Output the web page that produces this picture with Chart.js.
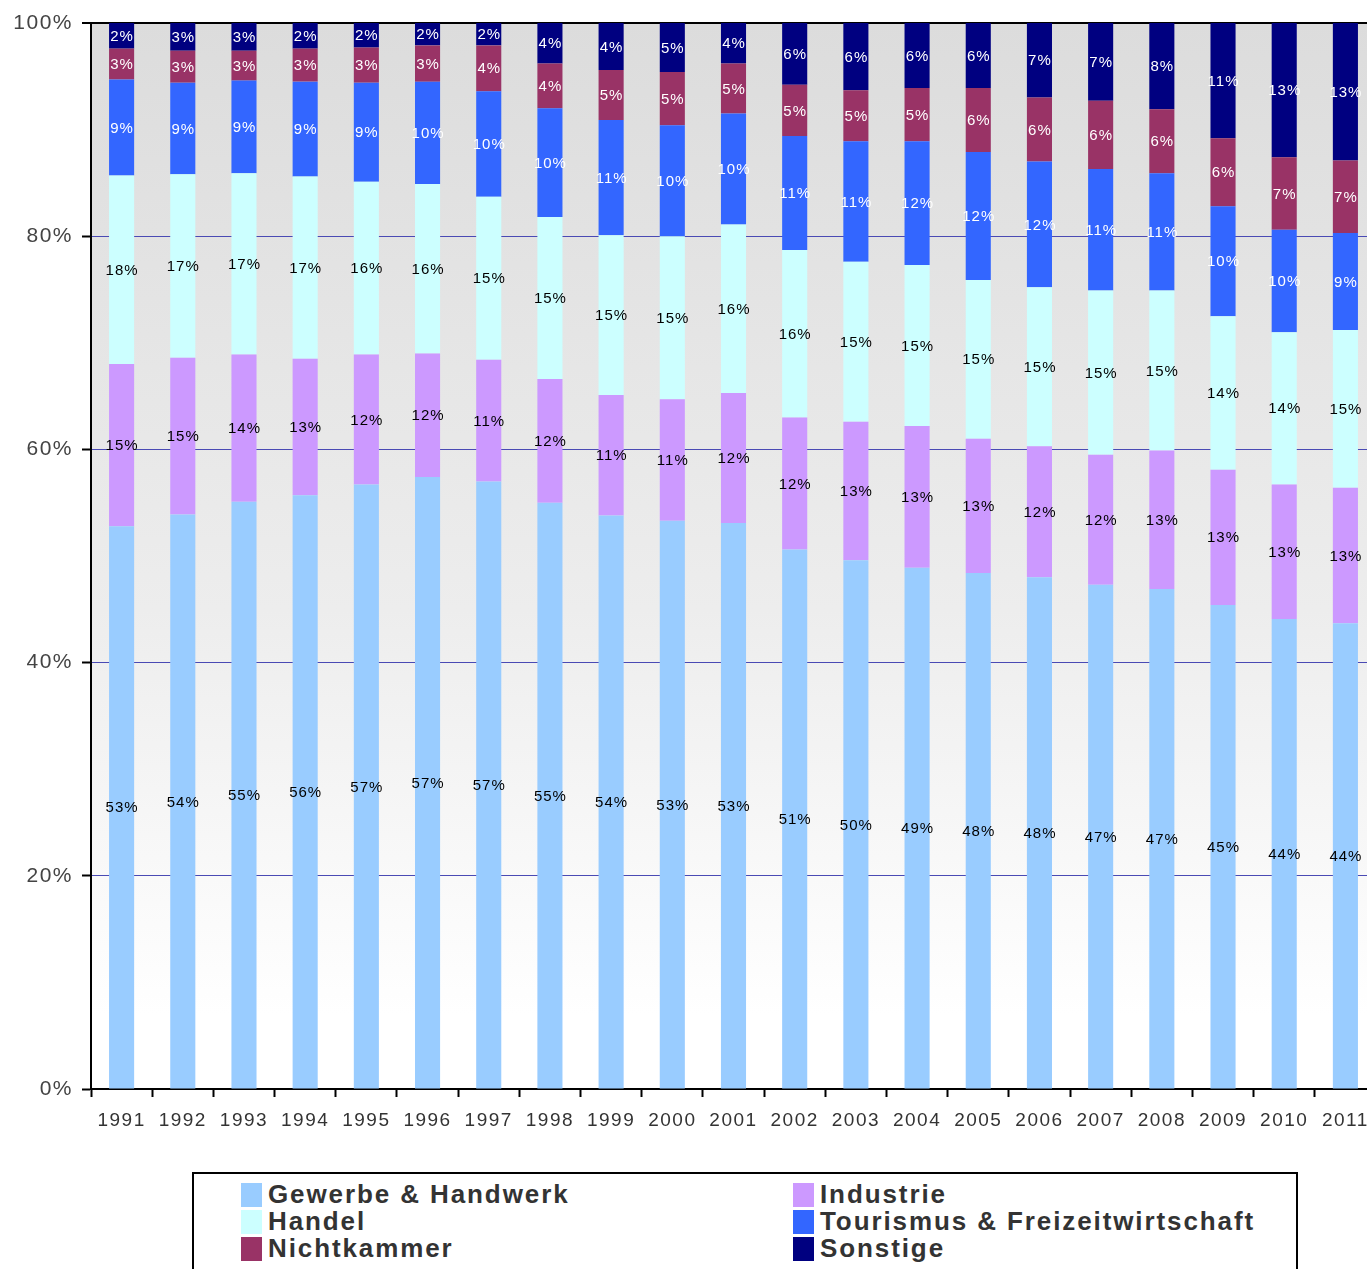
<!DOCTYPE html>
<html lang="de">
<head>
<meta charset="utf-8">
<title>Mitglieder nach Sparten 1991–2011</title>
<script src="https://cdn.jsdelivr.net/npm/chart.js@4/dist/chart.umd.min.js"></script>
<style>
  html, body { margin: 0; padding: 0; background: #fff; overflow: hidden; }
  body { width: 1367px; height: 1269px; position: relative; }
  #wrap { position: absolute; left: 0; top: 0; width: 1378px; height: 1140px; }
  #legend {
    position: absolute; left: 192px; top: 1172px; width: 1102px; height: 120px;
    border: 2px solid #000; box-sizing: content-box;
  }
  .item {
    position: absolute; height: 27px; display: flex; align-items: center;
    font-family: "Liberation Sans", Arial, sans-serif; font-weight: bold;
    font-size: 26px; letter-spacing: 1.9px; color: #333; white-space: nowrap;
  }
  .sw { width: 21px; height: 24px; margin-right: 6px; flex: none; }
</style>
</head>
<body>
<div id="wrap"><canvas id="chart"></canvas></div>
<div id="legend"></div>
<script>
// Jahre (Kategorien)
const years = ['1991','1992','1993','1994','1995','1996','1997','1998','1999','2000',
               '2001','2002','2003','2004','2005','2006','2007','2008','2009','2010','2011'];

// Anteile je Sparte in Prozent
const gewerbe     = [52.8, 53.9, 55.1, 55.7, 56.7, 57.4, 57.0, 55.0, 53.8, 53.3, 53.1, 50.6, 49.6, 48.9, 48.4, 48.0, 47.3, 46.9, 45.4, 44.1, 43.7];
const industrie   = [15.2, 14.7, 13.8, 12.8, 12.2, 11.6, 11.4, 11.6, 11.3, 11.4, 12.2, 12.4, 13.0, 13.3, 12.6, 12.3, 12.2, 13.0, 12.7, 12.6, 12.7];
const handel      = [17.7, 17.2, 17.0, 17.1, 16.2, 15.9, 15.3, 15.2, 15.0, 15.3, 15.8, 15.7, 15.0, 15.1, 14.9, 14.9, 15.4, 15.0, 14.4, 14.3, 14.8];
const tourismus   = [ 9.0,  8.6,  8.7,  8.9,  9.3,  9.6,  9.9, 10.2, 10.8, 10.4, 10.4, 10.7, 11.3, 11.6, 12.0, 11.8, 11.4, 11.0, 10.3,  9.6,  9.1];
const nichtkammer = [ 2.9,  3.0,  2.8,  3.1,  3.3,  3.4,  4.3,  4.2,  4.7,  5.0,  4.7,  4.8,  4.8,  5.0,  6.0,  6.0,  6.4,  6.0,  6.4,  6.8,  6.8];
const sonstige    = [ 2.4,  2.6,  2.6,  2.4,  2.3,  2.1,  2.1,  3.8,  4.4,  4.6,  3.8,  5.8,  6.3,  6.1,  6.1,  7.0,  7.3,  8.1, 10.8, 12.6, 12.9];

// Achsenbeschriftung
const yTicks = [0, 20, 40, 60, 80, 100];

const series = [
  { label: 'Gewerbe & Handwerk',              data: gewerbe,     color: '#99CCFF', text: '#000' },
  { label: 'Industrie',                       data: industrie,   color: '#CC99FF', text: '#000' },
  { label: 'Handel',                          data: handel,      color: '#CCFFFF', text: '#000' },
  { label: 'Tourismus & Freizeitwirtschaft',  data: tourismus,   color: '#3366FF', text: '#fff' },
  { label: 'Nichtkammer',                     data: nichtkammer, color: '#993366', text: '#fff' },
  { label: 'Sonstige',                        data: sonstige,    color: '#000080', text: '#fff' }
];

// Hintergrundverlauf der Zeichenfläche und Textabstand
const plotBackground = {
  id: 'plotBackground',
  beforeDraw(chart) {
    const { ctx, chartArea: a } = chart;
    ctx.letterSpacing = '1.5px';
    const g = ctx.createLinearGradient(0, a.top, 0, a.bottom);
    g.addColorStop(0, '#dcdcdc');
    g.addColorStop(0.55, '#ededed');
    g.addColorStop(0.93, '#ffffff');
    g.addColorStop(1, '#ffffff');
    ctx.save();
    ctx.fillStyle = g;
    ctx.fillRect(a.left, a.top, a.right - a.left, a.bottom - a.top);
    ctx.restore();
  }
};

// Prozentwerte mittig in jedem Segment
const segmentLabels = {
  id: 'segmentLabels',
  afterDatasetsDraw(chart) {
    const { ctx } = chart;
    ctx.save();
    ctx.font = '15px "Liberation Sans", Arial, sans-serif';
    ctx.letterSpacing = '1px';
    ctx.textAlign = 'center';
    ctx.textBaseline = 'middle';
    chart.data.datasets.forEach((ds, i) => {
      const meta = chart.getDatasetMeta(i);
      ctx.fillStyle = series[i].text;
      meta.data.forEach((bar, j) => {
        const v = ds.data[j];
        const cy = (bar.y + bar.base) / 2;
        ctx.fillText(Math.round(v) + '%', bar.x + 0.5, cy + 1);
      });
    });
    ctx.restore();
  }
};

const chart = new Chart(document.getElementById('chart'), {
  type: 'bar',
  data: {
    labels: years,
    datasets: series.map(s => ({
      label: s.label,
      data: s.data,
      backgroundColor: s.color,
      borderWidth: 0,
      barPercentage: 0.41,
      categoryPercentage: 1
    }))
  },
  options: {
    responsive: true,
    maintainAspectRatio: false,
    animation: false,
    events: [],
    layout: { padding: { top: 23, right: 2, left: 0, bottom: 0 } },
    plugins: { legend: { display: false }, tooltip: { enabled: false } },
    scales: {
      x: {
        stacked: true,
        offset: true,
        afterFit(scale) { scale.height = 51; },
        grid: {
          offset: true, drawOnChartArea: false, drawTicks: true,
          tickLength: 8, tickColor: '#000', tickWidth: 2
        },
        border: { color: '#000', width: 2 },
        ticks: {
          color: '#333', padding: 12, maxRotation: 0, autoSkip: false,
          font: { family: '"Liberation Sans", Arial, sans-serif', size: 19 }
        }
      },
      y: {
        stacked: true,
        min: 0, max: 100,
        afterFit(scale) { scale.width = 91; },
        afterBuildTicks(scale) { scale.ticks = yTicks.map(v => ({ value: v })); },
        grid: {
          color: c => (c.tick && c.tick.value === 100) ? '#000' : '#4a4ab4',
          lineWidth: c => (c.tick && c.tick.value === 100) ? 2 : 1,
          tickColor: '#000', tickWidth: 2, tickLength: 9
        },
        border: { color: '#000', width: 2 },
        ticks: {
          color: '#444', padding: 9,
          font: { family: '"Liberation Sans", Arial, sans-serif', size: 21 },
          callback: v => v + '%'
        }
      }
    }
  },
  plugins: [plotBackground, segmentLabels]
});

// Legende in zwei Spalten, zeilenweise gefüllt
const legend = document.getElementById('legend');
series.forEach((s, i) => {
  const col = i % 2, row = Math.floor(i / 2);
  const el = document.createElement('div');
  el.className = 'item';
  el.style.left = (col === 0 ? 47 : 599) + 'px';
  el.style.top = (7 + row * 27) + 'px';
  const sw = document.createElement('span');
  sw.className = 'sw';
  sw.style.background = s.color;
  const tx = document.createElement('span');
  tx.textContent = s.label;
  el.appendChild(sw);
  el.appendChild(tx);
  legend.appendChild(el);
});
</script>
</body>
</html>
